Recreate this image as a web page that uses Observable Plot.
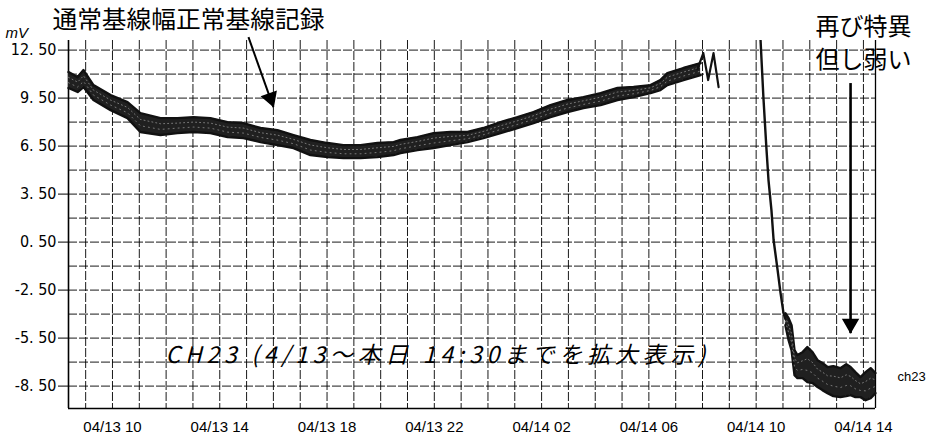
<!DOCTYPE html>
<html><head><meta charset="utf-8">
<script src="https://cdn.jsdelivr.net/npm/d3@7"></script>
<script src="https://cdn.jsdelivr.net/npm/@observablehq/plot@0.6"></script>
<style>html,body{margin:0;padding:0;background:#fff} svg{display:block}</style>
</head><body><div id="chart"></div>
<script>
// time axis: hours since 04/13 00:00
const xDomain = [8.36, 38.45];
const yDomain = [-9.9, 13.1];

// noisy trace before the event, read as an envelope (upper / lower edge)
const bandAHours = [8.36, 8.70, 8.92, 9.29, 9.93, 10.56, 11.04, 11.79, 12.42, 13.02, 13.65, 14.29, 14.88, 15.52, 16.15, 16.75, 17.38, 18.02, 18.61, 19.25, 19.88, 20.48, 20.74, 21.37, 21.97, 22.60, 23.24, 23.83, 24.47, 25.10, 25.70, 26.33, 26.97, 27.56, 28.20, 28.83, 29.43, 30.06, 30.43, 30.69, 31.29, 31.93];
const bandAHigh = [11.13, 10.81, 11.25, 10.31, 9.69, 9.25, 8.56, 8.25, 8.25, 8.31, 8.25, 8.00, 7.94, 7.63, 7.50, 7.19, 6.88, 6.69, 6.56, 6.56, 6.69, 6.75, 6.88, 7.06, 7.31, 7.38, 7.38, 7.63, 8.00, 8.31, 8.63, 9.06, 9.38, 9.56, 9.81, 10.13, 10.19, 10.31, 10.63, 11.06, 11.38, 11.69];
const bandALow = [10.13, 9.88, 10.19, 9.38, 8.75, 8.25, 7.38, 7.19, 7.31, 7.38, 7.31, 7.06, 7.00, 6.75, 6.56, 6.38, 5.94, 5.81, 5.75, 5.75, 5.81, 5.94, 6.06, 6.25, 6.38, 6.56, 6.75, 7.00, 7.31, 7.63, 7.94, 8.31, 8.63, 8.88, 9.06, 9.38, 9.56, 9.81, 10.00, 10.31, 10.63, 10.94];

// trace after the drop
const bandBHours = [35.09, 35.21, 35.32, 35.43, 35.54, 35.73, 35.91, 36.10, 36.29, 36.47, 36.66, 36.88, 37.14, 37.36, 37.52, 37.70, 37.89, 38.08, 38.27, 38.45];
const bandBHigh = [-3.94, -4.25, -4.69, -6.25, -6.56, -6.38, -6.06, -6.38, -6.88, -7.06, -7.31, -7.25, -7.38, -7.13, -7.31, -7.63, -7.94, -7.63, -7.38, -7.69];
const bandBLow = [-4.69, -5.63, -6.25, -7.81, -8.00, -8.00, -8.25, -8.31, -8.56, -8.75, -8.94, -9.13, -9.19, -9.13, -9.06, -9.19, -9.19, -9.38, -9.25, -8.94];

// thin zig-zag at the top and the steep drop
const spikeHours = [31.81, 32.03, 32.21, 32.41, 32.60];
const spikeValues = [11.31, 12.31, 10.63, 12.31, 10.19];
const dropHours = [34.16, 34.27, 34.38, 34.46, 34.57, 34.65, 34.80, 34.91, 35.02, 35.09];
const dropValues = [13.25, 9.56, 6.44, 4.38, 2.50, 0.63, -1.25, -2.69, -3.94, -4.30];

// ticks and grid
const xTickHours = [10, 14, 18, 22, 26, 30, 34, 38];
const xTickLabels = ["04/13 10", "04/13 14", "04/13 18", "04/13 22", "04/14 02", "04/14 06", "04/14 10", "04/14 14"];
const yTickValues = [12.5, 9.5, 6.5, 3.5, 0.5, -2.5, -5.5, -8.5];
const yTickLabels = ["12. 50", "9. 50", "6. 50", "3. 50", "0. 50", "-2. 50", "-5. 50", "-8. 50"];
const gridHours = [9,10,11,12,13,14,15,16,17,18,19,20,21,22,23,24,25,26,27,28,29,30,31,32,33,34,35,36,37,38];
const gridValues = [-8.5, -7, -5.5, -4, -2.5, -1, 0.5, 2, 3.5, 5, 6.5, 8, 9.5, 11, 12.5];

// annotation anchors (hours, mV) and arrows
const arrowFromHours = [15.07, 37.52];
const arrowFromValues = [13.31, 10.44];
const arrowToHours = [16.00, 37.52];
const arrowToValues = [8.94, -5.19];
const arrowHeadHours = [15.89, 37.52];
const arrowHeadValues = [9.50, -4.60];
const arrowHeadAngles = [160, 180];

const band = [
  ...bandAHours.map((t, i) => ({seg: "A", t, hi: bandAHigh[i], lo: bandALow[i]})),
  ...bandBHours.map((t, i) => ({seg: "B", t, hi: bandBHigh[i], lo: bandBLow[i]}))
];
const spike = spikeHours.map((t, i) => ({t, v: spikeValues[i]}));
const drop = dropHours.map((t, i) => ({t, v: dropValues[i]}));
const arrows = arrowFromHours.map((t, i) => ({x1: t, y1: arrowFromValues[i], x2: arrowToHours[i], y2: arrowToValues[i], hx: arrowHeadHours[i], hy: arrowHeadValues[i], rot: arrowHeadAngles[i], w: i === 0 ? 2 : 2.6}));

const narrow = "'Liberation Sans Narrow', 'DejaVu Sans Condensed', 'Arial Narrow', sans-serif";
const sans = "'Liberation Sans', Arial, sans-serif";
const jp = "'Noto Sans CJK JP', 'Noto Sans', sans-serif";
const gridStyle = {stroke: "#000", strokeOpacity: 0.9, strokeDasharray: "9,2", strokeWidth: 1};

const chart = Plot.plot({
  width: 927,
  height: 444,
  marginLeft: 68,
  marginRight: 52,
  marginTop: 40,
  marginBottom: 36,
  style: {background: "#fff", fontFamily: sans, color: "#000"},
  x: {domain: xDomain, axis: null},
  y: {domain: yDomain, axis: null},
  marks: [
    Plot.gridX(gridHours, gridStyle),
    Plot.gridY(gridValues, gridStyle),
    Plot.ruleX([xDomain[0]], {stroke: "#000", strokeWidth: 1.6}),
    Plot.ruleX([xDomain[1]], {stroke: "#000", strokeWidth: 1.3}),
    Plot.ruleY([yDomain[0]], {stroke: "#000", strokeWidth: 1.6}),
    Plot.areaY(band, {x: "t", y1: "lo", y2: "hi", z: "seg", fill: "#202020"}),
    Plot.line(band, {x: "t", y: "hi", z: "seg", stroke: "#111", strokeWidth: 2.4}),
    Plot.line(band, {x: "t", y: "lo", z: "seg", stroke: "#111", strokeWidth: 2.4}),
    Plot.line(band, {x: "t", y: d => (2 * d.hi + d.lo) / 3, z: "seg", stroke: "#fff", strokeOpacity: 0.4, strokeWidth: 1, strokeDasharray: "1,3"}),
    Plot.line(band, {x: "t", y: d => (d.hi + 2 * d.lo) / 3, z: "seg", stroke: "#fff", strokeOpacity: 0.4, strokeWidth: 1, strokeDasharray: "1,4"}),
    Plot.line(spike, {x: "t", y: "v", stroke: "#111", strokeWidth: 2.2}),
    Plot.line(drop, {x: "t", y: "v", stroke: "#111", strokeWidth: 2.4, clip: true}),
    Plot.link(arrows, {x1: "x1", y1: "y1", x2: "x2", y2: "y2", stroke: "#000", strokeWidth: "w"}),
    Plot.dot(arrows, {x: "hx", y: "hy", symbol: "triangle", r: 5.5, fill: "#000", stroke: "#000", rotate: "rot"}),
    Plot.axisY(yTickValues, {tickFormat: d => yTickLabels[yTickValues.indexOf(d)], tickSize: 10, tickPadding: 2, fontSize: 16, fontFamily: narrow, label: null, anchor: "left"}),
    Plot.axisX(xTickHours, {tickFormat: d => xTickLabels[xTickHours.indexOf(d)], tickSize: 0, tickPadding: 13, fontSize: 15, fontFamily: sans, label: null, anchor: "bottom"}),
    Plot.text(["通常基線幅正常基線記録"], {x: [7.76], y: [14.35], textAnchor: "start", fontSize: 24, fontFamily: jp, fill: "#000"}),
    Plot.text(["mV"], {x: [6.01], y: [13.54], textAnchor: "start", fontSize: 15, fontStyle: "italic", fontFamily: sans, fill: "#000"}),
    Plot.text(["再び特異"], {x: [36.21], y: [13.91], textAnchor: "start", fontSize: 24, fontFamily: jp, fill: "#000"}),
    Plot.text(["但し弱い"], {x: [36.21], y: [11.85], textAnchor: "start", fontSize: 24, fontFamily: jp, fill: "#000"}),
    Plot.text(["CH23 (4/13～本日 14:30までを拡大表示)"], {x: [11.98], y: [-6.59], textAnchor: "start", fontSize: 23, fontStyle: "italic", fontFamily: jp, fill: "#000"}),
    Plot.text(["ch23"], {x: [39.27], y: [-7.9], textAnchor: "start", fontSize: 13, fontFamily: sans, fill: "#000"})
  ]
});
document.getElementById("chart").appendChild(chart);
d3.select(chart).selectAll("text")
  .filter(function () { return this.textContent.startsWith("CH23"); })
  .attr("textLength", 540).attr("lengthAdjust", "spacing");
d3.select(chart).selectAll("text")
  .filter(function () { return this.textContent.startsWith("通常"); })
  .attr("textLength", 272).attr("lengthAdjust", "spacingAndGlyphs");
</script>
</body></html>
